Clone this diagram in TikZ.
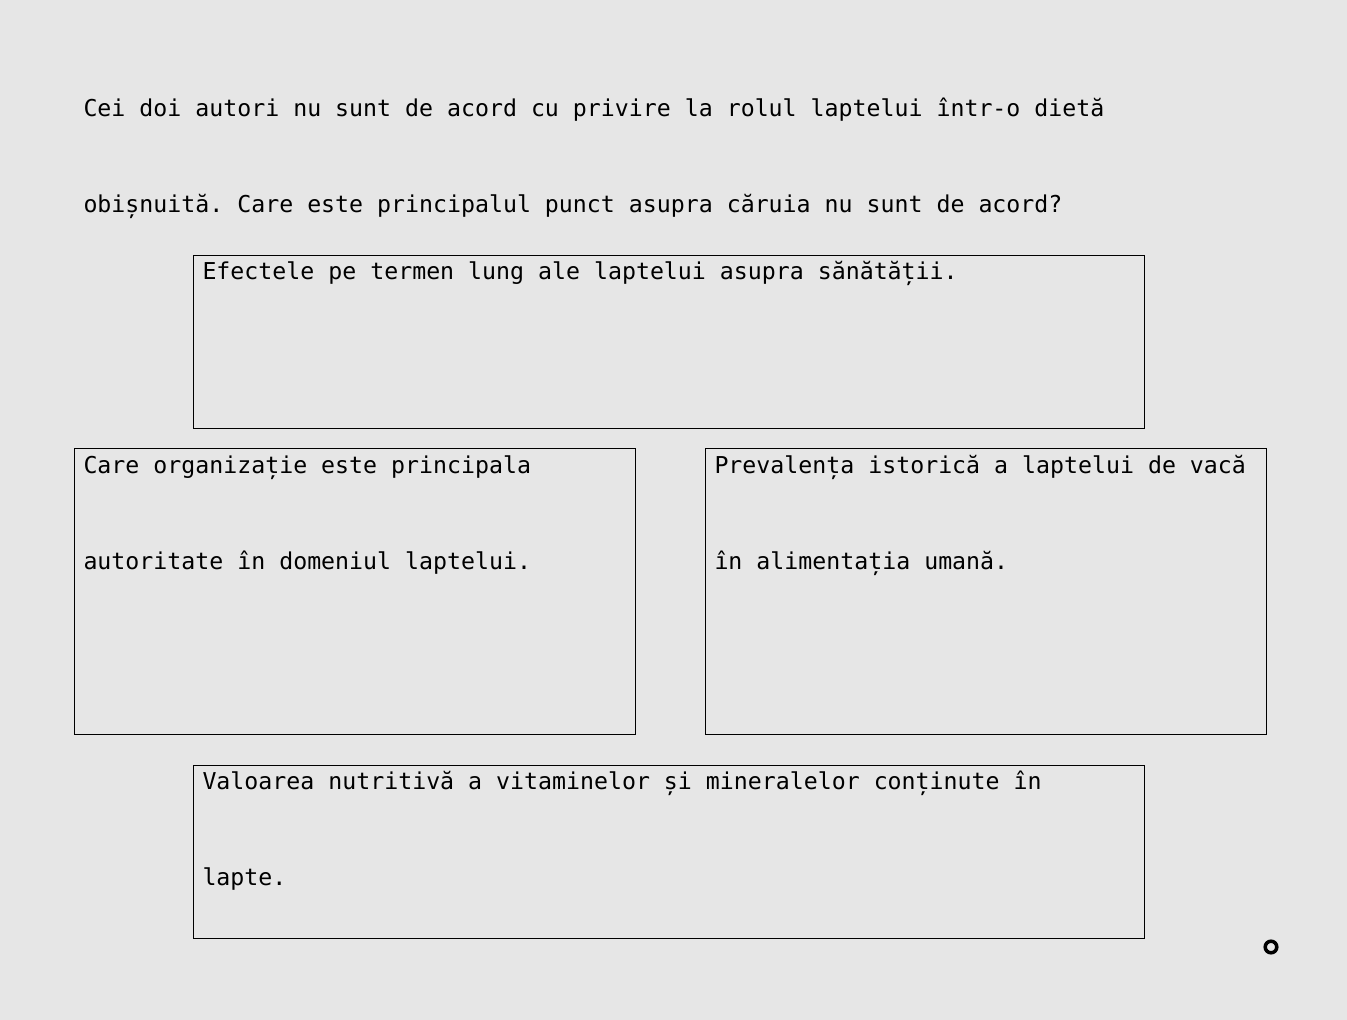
\documentclass[tikz,border=0pt]{standalone}
\usepackage{fontspec}
\setmonofont{DejaVu Sans Mono}
\definecolor{bg}{HTML}{E6E6E6}
\definecolor{ink}{HTML}{000000}
\begin{document}
\begin{tikzpicture}[x=1pt,y=-1pt,
  txt/.style={anchor=base west,inner sep=0pt,outer sep=0pt,text=ink,font=\fontsize{23.23}{28}\ttfamily},
  boxstyle/.style={draw=ink,line width=1pt}]
\fill[bg] (0,0) rectangle (1347,1020);
\useasboundingbox (0,0) rectangle (1347,1020);
\node[txt] (t1) at (83.5,116) {Cei doi autori nu sunt de acord cu privire la rolul laptelui într-o dietă};
\node[txt] (t2) at (83.5,212) {obișnuită. Care este principalul punct asupra căruia nu sunt de acord?};
\draw[boxstyle] (193,255) rectangle (1144,428);
\node[txt] (a1) at (202.5,279) {Efectele pe termen lung ale laptelui asupra sănătății.};
\draw[boxstyle] (74,448) rectangle (635,734);
\node[txt] (b1) at (83.5,473) {Care organizație este principala};
\node[txt] (b2) at (83.5,569) {autoritate în domeniul laptelui.};
\draw[boxstyle] (705,448) rectangle (1266,734);
\node[txt] (c1) at (714.5,473) {Prevalența istorică a laptelui de vacă};
\node[txt] (c2) at (714.5,569) {în alimentația umană.};
\draw[boxstyle] (193,765) rectangle (1144,938);
\node[txt] (d1) at (202.5,789) {Valoarea nutritivă a vitaminelor și mineralelor conținute în};
\node[txt] (d2) at (202.5,885) {lapte.};
\draw[black,line width=3.5pt] (1271,947) circle (5.8);
\end{tikzpicture}
\end{document}
